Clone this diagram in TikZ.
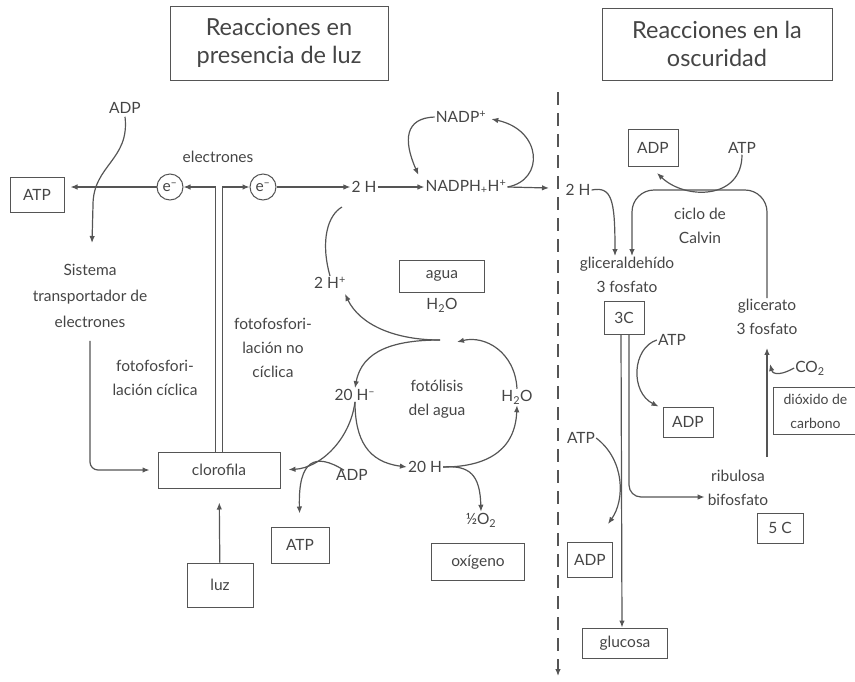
\documentclass[tikz,border=0pt]{standalone}
\usepackage{fontspec}
\setmainfont{Lato}
\usepackage{tikz}
\usetikzlibrary{arrows.meta,calc}
\definecolor{inkgray}{HTML}{555555}
\definecolor{textgray}{HTML}{454545}

\begin{document}
\begin{tikzpicture}[
    x=1pt, y=-1pt,
    lbl/.style={text=textgray, align=center, inner sep=1pt, font=\fontsize{15.5}{24}\selectfont},
    box/.style={lbl, draw=inkgray, line width=1pt},
    title/.style={box, font=\fontsize{23.5}{28}\selectfont, minimum width=218pt, minimum height=74pt},
    ecirc/.style={lbl, circle, draw=inkgray, line width=1pt, minimum size=26pt, inner sep=0pt},
    arr/.style={draw=inkgray, line width=1.2pt, -{Latex[length=7pt,width=5.5pt]}},
    link/.style={draw=inkgray, line width=1.2pt}
]
\clip (0,0) rectangle (855,681);

% titulos
\node[title] (tluz) at (279,43) {Reacciones en\\presencia de luz};
\node[title, minimum width=230pt, minimum height=72pt] (tosc) at (717,44) {Reacciones en la\\oscuridad};

% fase luminosa
\node[lbl] (adp1) at (125,108) {ADP};
\node[box, minimum width=54pt, minimum height=35pt] (atp1) at (37,195) {ATP};
\node[ecirc] (e1) at (170,187) {e\textsuperscript{–}};
\node[ecirc] (e2) at (263,187) {e\textsuperscript{–}};
\node[lbl] (elec) at (218,157) {electrones};
\node[lbl, font=\fontsize{15.5}{26}\selectfont] (sist) at (90,296) {Sistema\\transportador de\\electrones};
\node[lbl] (cicl) at (155,378) {fotofosfori-\\lación cíclica};
\node[box, minimum width=122pt, minimum height=36pt] (cloro) at (219,470) {clorofila};
\node[box, minimum width=66pt, minimum height=44pt] (luz) at (220,585) {luz};
\node[box, minimum width=58pt, minimum height=36pt] (atp2) at (300,545) {ATP};
\node[lbl] (nocicl) at (273,348) {fotofosfori-\\lación no\\cíclica};

\node[lbl] (dosh) at (364,187) {2 H};
\node[lbl] (nadph) at (466,187) {NADPH\textsubscript{+}H\textsuperscript{+}};
\node[lbl] (nadp) at (461,117) {NADP\textsuperscript{+}};
\node[lbl] (doshp) at (330,283) {2 H\textsuperscript{+}};
\node[box, minimum width=85pt, minimum height=32pt] (agua) at (442,276) {agua};
\node[lbl] (h2oa) at (442,305) {H\textsubscript{2}O};
\coordinate (fork) at (440,340);
\coordinate (forkin) at (457,342);
\node[lbl] (h2ob) at (517,397) {H\textsubscript{2}O};
\node[lbl] (fot) at (437,399) {fotólisis\\del agua};
\node[lbl] (hm) at (355,395) {20 H\textsuperscript{–}};
\node[lbl] (adp2) at (352,475) {ADP};
\node[lbl] (hh) at (425,467) {20 H};
\node[lbl] (mo2) at (481,520) {½O\textsubscript{2}};
\node[box, minimum width=93pt, minimum height=37pt] (oxi) at (478,562) {oxígeno};

% fase oscura
\node[box, minimum width=50pt, minimum height=37pt] (adp3) at (653,148) {ADP};
\node[lbl] (atp3) at (742,148) {ATP};
\node[lbl] (dosh2) at (578,190) {2 H};
\node[lbl] (calv) at (700,226) {ciclo de\\Calvin};
\node[lbl] (glal) at (627,275) {gliceraldehído\\3 fosfato};
\node[lbl] (glic) at (767,317) {glicerato\\3 fosfato};
\node[box, minimum width=40pt, minimum height=33pt] (c3) at (624,318) {3C};
\node[lbl] (atp4) at (672,340) {ATP};
\node[box, minimum width=50pt, minimum height=30pt] (adp4) at (688,422) {ADP};
\node[lbl] (atp5) at (581,438) {ATP};
\node[box, minimum width=45pt, minimum height=35pt] (adp5) at (590,560) {ADP};
\node[box, minimum width=85pt, minimum height=30pt] (gluc) at (625,643) {glucosa};
\node[lbl] (ribu) at (738,488) {ribulosa\\bifosfato};
\node[box, minimum width=46pt, minimum height=30pt] (c5) at (780,528) {5 C};
\node[lbl] (co2) at (810,368) {CO\textsubscript{2}};
\node[box, anchor=west, minimum width=84pt, minimum height=47pt, font=\fontsize{14}{24}\selectfont] (dioxi) at (773,411) {dióxido de\\carbono};
\coordinate (dioxicut) at (870,411);
\draw[link, line width=1pt] (dioxi.north east) -- (dioxi.north east -| dioxicut) (dioxi.south east) -- (dioxi.south east -| dioxicut);

% linea divisoria
\coordinate (dtop) at (558,92);
\coordinate (dbot) at (558,676);
\draw[arr, dash pattern=on 13pt off 8pt] (dtop) -- (dbot);

% conexiones fase luminosa
\coordinate (adpdown) at (92,243);
\draw[arr] (e1) -- ($(atp1.east |- e1)+(6,0)$);
\draw[arr] ($(adp1.south)+(0,2)$) .. controls (130,160) and (93,165) .. (93,205) -- (adpdown);
\draw[arr] ($(cloro.north)+(-3.5,0)$) |- (e1);
\draw[arr] ($(cloro.north)+(3.5,0)$) |- (e2);
\draw[arr, rounded corners=8pt, shorten <=12pt] (sist.south) |- ($(cloro.west)+(-8,0)$);
\draw[arr, shorten >=14pt] (luz) -- (cloro);
\draw[arr] (e2) -- (dosh);
\draw[arr] (dosh) -- (nadph);
\draw[arr] (nadp.west) .. controls (405,118) and (403,140) .. ($(nadph.north west)+(-6,-4)$);
\coordinate (nadpout) at (549,188);
\draw[arr] (nadph.east) .. controls (545,180) and (542,130) .. ($(nadp.east)+(4,2)$);
\draw[arr] (nadph.east) -- (nadpout);
\coordinate (hup) at (342,207);
\draw[link] (doshp.north) .. controls (320,240) and (328,215) .. (hup);
\draw[arr] (fork) .. controls (395,340) and (360,325) .. ($(doshp.south east)+(-2,4)$);
\draw[arr] (fork) .. controls (395,340) and (362,350) .. (hm.north);
\draw[arr] (h2ob.north) .. controls (515,352) and (485,335) .. (forkin);
\draw[arr, shorten >=8pt] (hm.south) .. controls (350,440) and (320,468) .. (cloro.east);
\draw[arr] (hm.south) .. controls (355,440) and (368,462) .. (hh.west);
\draw[arr, shorten >=13pt] ($(adp2.north)+(-8,2)$) .. controls (315,452) and (298,460) .. (atp2.north);
\draw[arr] (hh.east) .. controls (480,467) and (515,455) .. (h2ob.south);
\draw[arr] (hh.east) .. controls (470,465) and (480,475) .. (mo2.north);

% conexiones fase oscura
\coordinate (cyc) at (632,190);
\draw[arr] (dosh2.east) .. controls (612,186) and (615,200) .. ($(glal.north)+(-12,0)$);
\draw[arr, rounded corners=22pt] (glic.north) |- (cyc) -- ($(glal.north)+(5,0)$);
\draw[arr] (atp3.south) .. controls (742,200) and (685,200) .. ($(adp3.south)+(4,6)$);
\draw[arr] ($(c3.south)+(-3,0)$) -- ($(gluc.north)+(-3,0)$);
\draw[arr, rounded corners=12pt] ($(c3.south)+(5,0)$) |- ($(ribu.west)+(-2,9)$);
\draw[arr] (atp4.west) .. controls (632,348) and (630,392) .. ($(adp4.north west)+(-4,0)$);
\draw[arr] (atp5.east) .. controls (625,460) and (625,500) .. ($(adp5.north east)+(-5,-18)$);
\coordinate (rup) at (767,457);
\draw[arr, shorten >=12pt] (rup) -- (glic.south -| rup);
\coordinate (co2in) at (770,364);
\draw[arr] (co2.west) .. controls (776,378) and (772,372) .. (co2in);
\end{tikzpicture}
\end{document}
